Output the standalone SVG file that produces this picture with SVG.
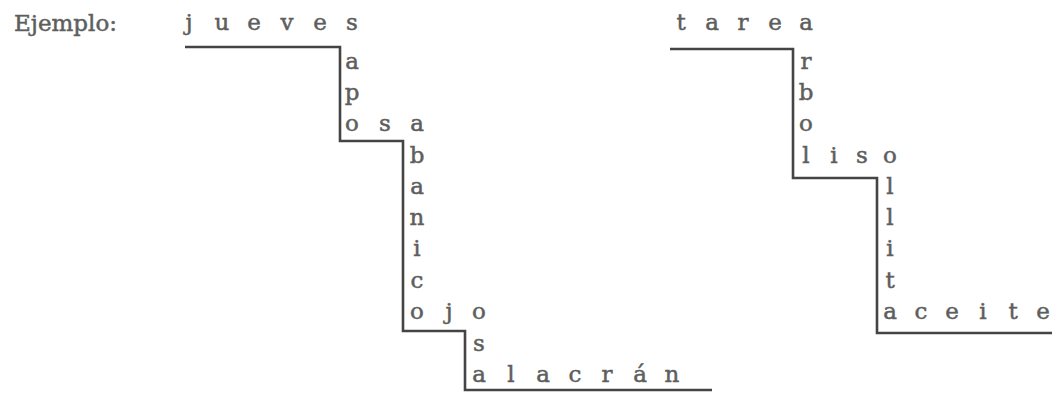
<svg xmlns="http://www.w3.org/2000/svg" width="1052" height="393" viewBox="0 0 1052 393">
<style>
text{font-family:"DejaVu Serif","Liberation Serif",serif;font-size:23px;fill:#5e5e5e;stroke:#5e5e5e;stroke-width:0.5;text-anchor:middle}
.lbl{text-anchor:start}
.ln{fill:none;stroke:#444;stroke-width:2.6;stroke-linejoin:miter}
</style>
<rect width="1052" height="393" fill="#fff"/>
<g id="label"><text class="lbl" x="14" y="31">Ejemplo:</text></g>
<g id="connectors">
<path class="ln" d="M185,47 L340,47 L340,141 L403,141 L403,331 L465,331 L465,390 L712,390"/>
<path class="ln" d="M670,49 L793,49 L793,178 L877,178 L877,333 L1052,333"/>
</g>
<g id="w-jueves"><text x="189" y="30">j</text><text x="222" y="30">u</text><text x="254" y="30">e</text><text x="287" y="30">v</text><text x="320" y="30">e</text><text x="352" y="30">s</text></g>
<g id="w-sapo"><text x="352" y="69">a</text><text x="352" y="100">p</text><text x="352" y="131">o</text></g>
<g id="w-osa"><text x="385" y="131">s</text><text x="417" y="131">a</text></g>
<g id="w-abanico"><text x="417" y="163">b</text><text x="417" y="194">a</text><text x="417" y="225">n</text><text x="417" y="256">i</text><text x="417" y="288">c</text><text x="417" y="319">o</text></g>
<g id="w-ojo"><text x="449" y="319">j</text><text x="479" y="319">o</text></g>
<g id="w-osa2"><text x="479" y="351">s</text></g>
<g id="w-alacran"><text x="479" y="382">a</text><text x="511" y="382">l</text><text x="543" y="382">a</text><text x="575" y="382">c</text><text x="607" y="382">r</text><text x="640" y="382">á</text><text x="672" y="382">n</text></g>
<g id="w-tarea"><text x="681" y="30">t</text><text x="712" y="30">a</text><text x="743" y="30">r</text><text x="775" y="30">e</text><text x="806" y="30">a</text></g>
<g id="w-arbol"><text x="806" y="69">r</text><text x="806" y="100">b</text><text x="806" y="131">o</text><text x="806" y="163">l</text></g>
<g id="w-liso"><text x="834" y="163">i</text><text x="862" y="163">s</text><text x="890" y="163">o</text></g>
<g id="w-olla"><text x="890" y="194">l</text><text x="890" y="225">l</text><text x="890" y="256">i</text><text x="890" y="288">t</text></g>
<g id="w-aceite"><text x="890" y="319">a</text><text x="921" y="319">c</text><text x="952" y="319">e</text><text x="983" y="319">i</text><text x="1013" y="319">t</text><text x="1043" y="319">e</text></g>
</svg>
